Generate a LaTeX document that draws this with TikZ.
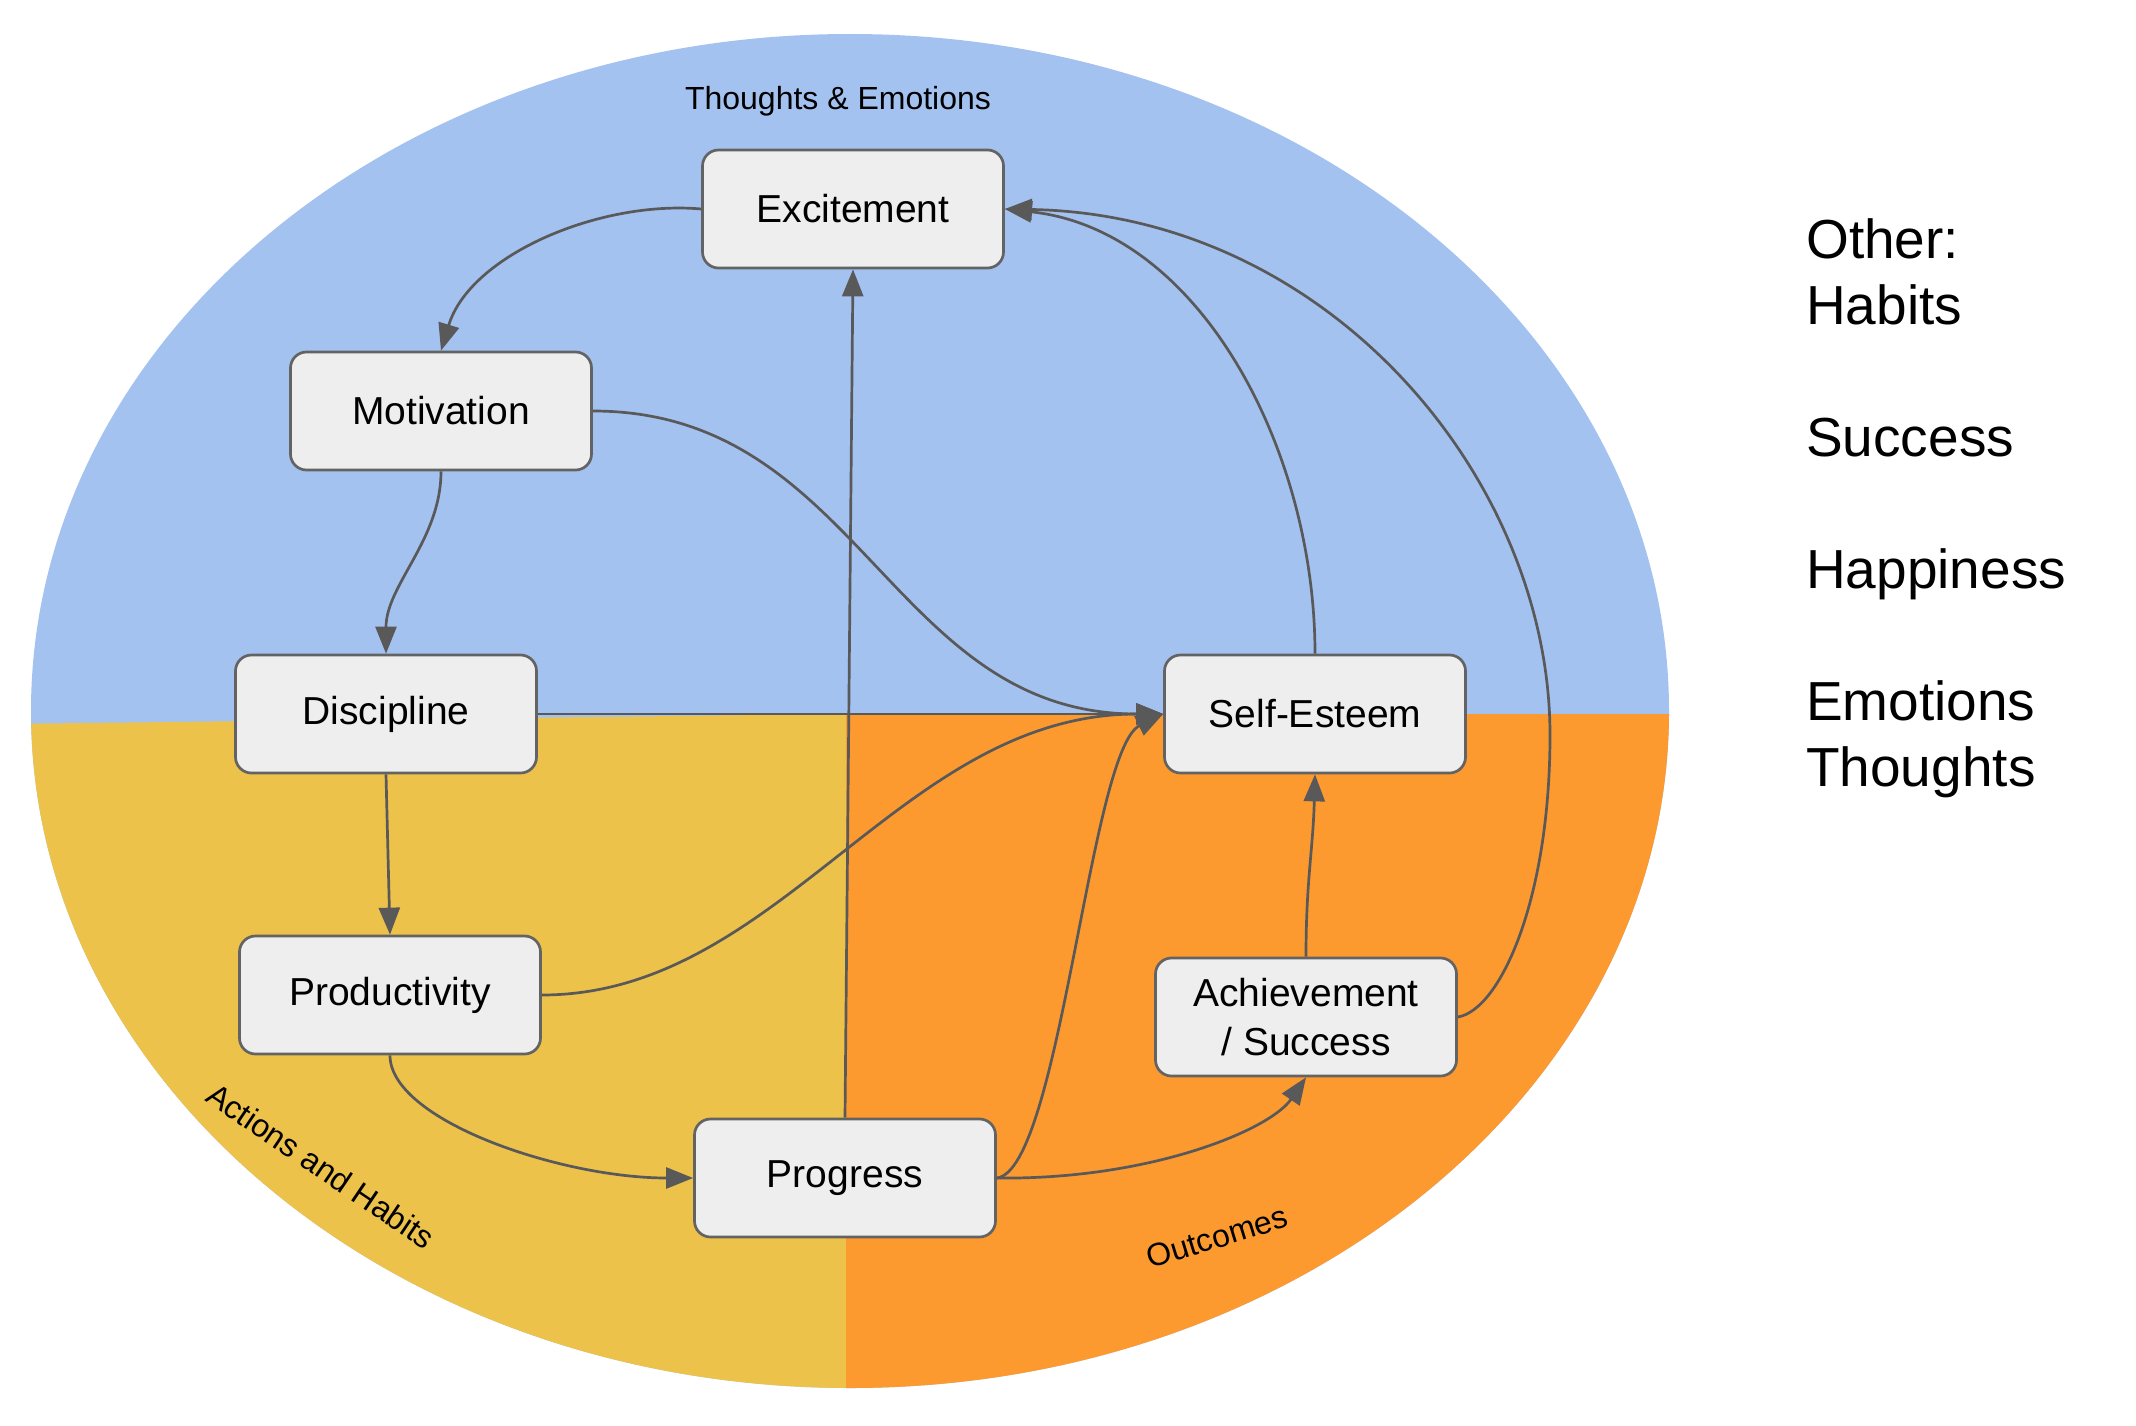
\documentclass[tikz,border=0pt]{standalone}
\usepackage{fontspec}
\setmainfont{Liberation Sans}
\usetikzlibrary{arrows.meta}
\definecolor{bluez}{HTML}{A4C2F0}
\definecolor{yellowz}{HTML}{EDC24A}
\definecolor{orangez}{HTML}{FC9A30}
\definecolor{edgec}{HTML}{595959}
\definecolor{boxline}{HTML}{636363}
\definecolor{boxfill}{HTML}{EEEEEE}
\begin{document}
\begin{tikzpicture}[x=1pt,y=-1pt,
  box/.style={draw=boxline, line width=2.7pt, fill=boxfill, rounded corners=16pt, minimum width=301pt, minimum height=118pt, inner sep=0pt, align=center, font=\fontsize{39}{49}\selectfont},
  conn/.style={draw=edgec, line width=2.7pt},
  arr/.style={conn, -{Triangle[length=27pt,width=21pt]}},
  region/.style={font=\fontsize{32}{38}\selectfont}]
\useasboundingbox (0,0) rectangle (2136,1426);
\begin{scope}
\clip (850,711) ellipse [x radius=819pt, y radius=677pt];
\fill[bluez] (0,0) rectangle (2136,1426);
\fill[yellowz] (846,714) -- (0,724) -- (0,1426) -- (846,1426) -- cycle;
\fill[orangez] (846,714) rectangle (2136,1426);
\end{scope}

\node[region] (lte) at (838,101) {Thoughts \& Emotions};
\node[region, rotate=-34] (lah) at (321,1166) {Actions and Habits};
\node[region, rotate=17] (lout) at (1217,1237) {Outcomes};

\node[box] (exc) at (853,209) {Excitement};
\node[box] (mot) at (441,411) {Motivation};
\node[box] (dis) at (386,714) {Discipline};
\node[box] (pro) at (390,995) {Productivity};
\node[box] (prg) at (845,1178) {Progress};
\node[box] (se) at (1315,714) {Self-Esteem};
\node[box] (ach) at (1306,1017) {Achievement\\/ Success};

\node[anchor=base west, align=left, inner sep=0pt, font=\fontsize{55}{66}\selectfont] (other) at (1806,786)
  {Other:\\Habits\\[66pt]Success\\[66pt]Happiness\\[66pt]Emotions\\Thoughts};

\draw[arr] (exc.west) .. controls (600,200) and (470,255) .. (mot.north);
\draw[arr] (mot.south) .. controls (441,540) and (386,585) .. (dis.north);
\draw[arr] (dis.south) -- (pro.north);
\draw[arr] (pro.south) .. controls (390,1120) and (560,1178) .. (prg.west);
\draw[arr] (prg.north) -- (exc.south);
\draw[arr] (mot.east) .. controls (860,411) and (890,714) .. (se.west);
\draw[arr] (dis.east) -- (se.west);
\draw[arr] (pro.east) .. controls (780,995) and (900,714) .. (se.west);
\draw[arr] (prg.east) .. controls (1060,1170) and (1090,750) .. (se.west);
\draw[arr] (prg.east) .. controls (1150,1180) and (1270,1130) .. (ach.south);
\draw[arr] (se.north) .. controls (1315,450) and (1200,230) .. (exc.east);
\draw[arr] (ach.east) .. controls (1500,1010) and (1550,900) .. (1550,735) .. controls (1550,480) and (1330,215) .. (exc.east);
\draw[arr] (ach.north) .. controls (1306,880) and (1313,850) .. (se.south);
\end{tikzpicture}
\end{document}
